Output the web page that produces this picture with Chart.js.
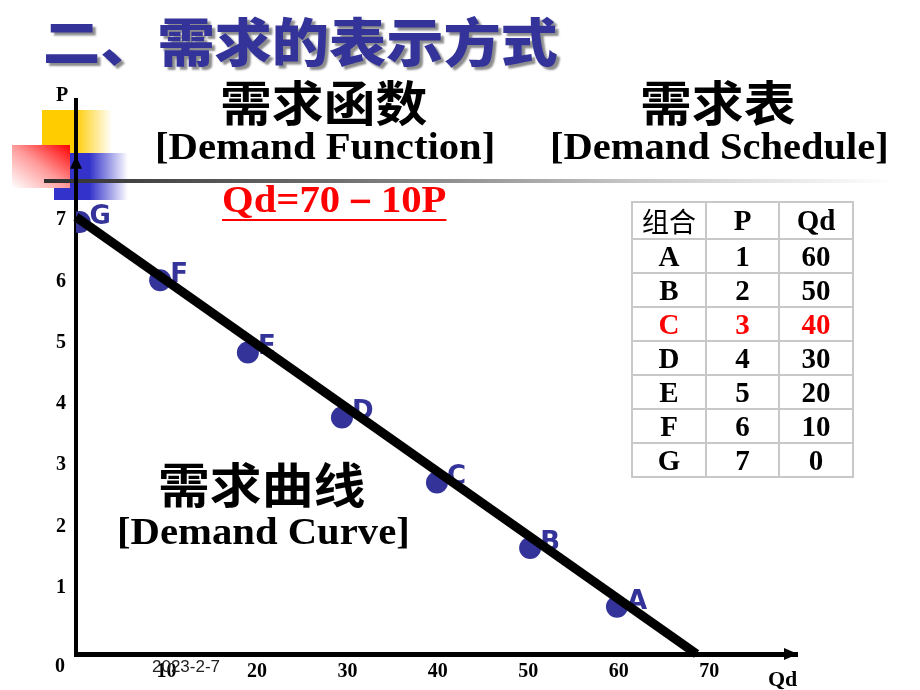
<!DOCTYPE html>
<html><head><meta charset="utf-8">
<script src="https://cdn.jsdelivr.net/npm/chart.js@4.4.0/dist/chart.umd.min.js"></script>
<style>
html,body{margin:0;padding:0;background:#fff;}
#wrap{position:relative;width:920px;height:690px;overflow:hidden;background:#fff;}
.t{position:absolute;white-space:nowrap;line-height:1;transform-origin:0 0;}
.cjk{font-family:"Noto Sans CJK SC",sans-serif;font-weight:700;font-size:48px;color:#000;transform:scaleX(1.08);}
.en{font-family:"Liberation Serif","Times New Roman",serif;font-weight:700;font-size:37px;color:#000;transform:scaleX(1.1);}
.ax{font-family:"Liberation Serif","Times New Roman",serif;font-weight:700;font-size:20px;color:#000;}
.deco{position:absolute;}
#tbl{position:absolute;left:631px;top:201px;border-collapse:collapse;table-layout:fixed;}
#tbl td{border:2px solid #c8c8c8;text-align:center;padding:0;font-family:"Liberation Serif","Times New Roman",serif;font-weight:700;font-size:29px;line-height:1;overflow:hidden;}
</style></head><body>
<div id="wrap">
  <div class="deco" style="left:42px;top:110px;width:70px;height:43px;background:linear-gradient(to right,#FFCC00 0%,#FFCC00 47%,rgba(255,204,0,0) 100%);"></div>
  <div class="deco" style="left:54px;top:153px;width:74px;height:47px;background:linear-gradient(to right,#3333CC 0%,#3333CC 48%,rgba(51,51,204,0) 100%);"></div>
  <div class="deco" style="left:12px;top:145px;width:58px;height:43px;background:linear-gradient(to bottom left,#FF0000 0%,#ff9a9a 50%,#ffffff 100%);"></div>
  <div class="deco" style="left:44px;top:179px;width:850px;height:4px;background:linear-gradient(to right,#303030 0%,#707070 35%,#c8c8c8 70%,rgba(255,255,255,0) 100%);"></div>

  <canvas id="c" width="920" height="690" style="position:absolute;left:0;top:0;"></canvas>

  <div class="t" style="left:43px;top:14px;font-family:'Noto Sans CJK SC',sans-serif;font-weight:900;font-size:52px;color:#333399;transform:scaleX(1.1);text-shadow:3px 3px 2px rgba(0,0,0,0.45);">二、需求的表示方式</div>

  <div class="t cjk" style="left:220px;top:76px;">需求函数</div>
  <div class="t cjk" style="left:640px;top:76px;">需求表</div>
  <div class="t en" style="left:155px;top:128px;">[Demand Function]</div>
  <div class="t en" style="left:550px;top:128px;transform:scaleX(1.095);">[Demand Schedule]</div>
  <div class="t en" style="left:222px;top:181px;color:#FF0000;text-decoration:underline;text-decoration-thickness:2px;text-underline-offset:7px;">Qd=70－10P</div>
  <div class="t cjk" style="left:158px;top:458px;">需求曲线</div>
  <div class="t en" style="left:117px;top:513px;">[Demand Curve]</div>

  <div class="t ax" style="left:56px;top:84px;">P</div>
  <div class="t ax" style="left:55px;top:655px;">0</div>
  <div class="t ax" style="left:768px;top:668px;font-size:22px;">Qd</div>
  <div class="t" style="left:152px;top:658px;font-family:'Liberation Sans',Arial,sans-serif;font-size:17px;color:#222;">2023-2-7</div>

  <table id="tbl"></table>
</div>
<script>
// ---- Demand schedule (table) ----
const combos = ['A','B','C','D','E','F','G'];
const schedP = [1,2,3,4,5,6,7];
const schedQd = [60,50,40,30,20,10,0];
const highlightRow = 'C';

// ---- Plotted points ----
const dotQd = [59.8,50.2,39.9,29.4,19.0,9.3,0.4];
const dotP  = [0.69,1.65,2.72,3.78,4.84,6.02,6.97];

// ---- Demand curve end points ----
const curveQd = [0, 68.6];
const curveP  = [7.05, -0.08];

// ---- Axis ticks ----
const xTicks = [10,20,30,40,50,60,70];
const yTicks = [1,2,3,4,5,6,7];

// build table
const tbl = document.getElementById('tbl');
const hdr = ['组合','P','Qd'];
const colW = [74,73,74];
let html = '<colgroup>' + colW.map(w=>'<col style="width:'+w+'px">').join('') + '</colgroup>';
html += '<tr style="height:37px">' + hdr.map((h,i)=>'<td style="'+(i===0?'font-family:\'Noto Sans CJK SC\',sans-serif;font-weight:400;font-size:27px;':'')+'">'+h+'</td>').join('') + '</tr>';
combos.forEach((c,i)=>{
  const col = c===highlightRow ? 'color:#FF0000;' : '';
  html += '<tr style="height:34px"><td style="'+col+'">'+c+'</td><td style="'+col+'">'+schedP[i]+'</td><td style="'+col+'">'+schedQd[i]+'</td></tr>';
});
tbl.innerHTML = html;
tbl.style.width = (colW.reduce((a,b)=>a+b,0)) + 'px';

const dots = dotQd.map((q,i)=>({x:q,y:dotP[i]}));
const curve = curveQd.map((q,i)=>({x:q,y:curveP[i]}));

const tickFont = {family:"'Liberation Serif','Times New Roman',serif", weight:'bold', size:20};

const decoPlugin = {
  id:'deco',
  afterDatasetDraw(chart,args){
    if(args.index!==1) return;
    const ctx = chart.ctx;
    const meta = chart.getDatasetMeta(1);
    ctx.save();
    ctx.fillStyle = '#333399';
    ctx.font = "bold 26px 'DejaVu Sans', sans-serif";
    ctx.textBaseline = 'middle';
    ctx.textAlign = 'left';
    meta.data.forEach((pt,i)=>{
      ctx.fillText(combos[i], pt.x+10, pt.y-5);
    });
    ctx.restore();
  },
  afterDraw(chart){
    const ctx = chart.ctx;
    const a = chart.chartArea;
    const ys = chart.scales.y;
    ctx.save();
    ctx.fillStyle = '#000';
    // y arrow
    const tipY = ys.getPixelForValue(8.05);
    ctx.beginPath();
    ctx.moveTo(a.left, tipY);
    ctx.lineTo(a.left-6, tipY+13);
    ctx.lineTo(a.left+6, tipY+13);
    ctx.closePath(); ctx.fill();
    // x arrow
    ctx.beginPath();
    ctx.moveTo(a.right+1, a.bottom);
    ctx.lineTo(a.right-13, a.bottom-6);
    ctx.lineTo(a.right-13, a.bottom+6);
    ctx.closePath(); ctx.fill();
    ctx.restore();
  }
};

new Chart(document.getElementById('c'), {
  type:'scatter',
  data:{datasets:[
    {type:'line', data:curve, borderColor:'#000', borderWidth:9, pointRadius:0, order:1, borderCapStyle:'butt', clip:false, fill:false},
    {data:dots, backgroundColor:'#333399', borderWidth:0, pointRadius:11, pointHoverRadius:11, order:2}
  ]},
  options:{
    responsive:false, animation:false, devicePixelRatio:1,
    layout:{padding:{top:100,right:123,bottom:0,left:0}},
    plugins:{legend:{display:false}, tooltip:{enabled:false}},
    scales:{
      x:{type:'linear', min:0, max:79.7,
        grid:{display:false, drawTicks:false},
        border:{display:true, color:'#000', width:5},
        ticks:{color:'#000', font:tickFont, padding:6, maxRotation:0, autoSkip:false},
        afterBuildTicks(s){ s.ticks = xTicks.map(v=>({value:v})); },
        afterFit(s){ s.height = 36; }
      },
      y:{type:'linear', min:-0.08, max:8.96,
        grid:{display:false, drawTicks:false},
        border:{display:true, color:'#000', width:4},
        ticks:{color:'#000', font:tickFont, padding:10, autoSkip:false},
        afterBuildTicks(s){ s.ticks = yTicks.map(v=>({value:v})); },
        afterFit(s){ s.width = 76; }
      }
    }
  },
  plugins:[decoPlugin]
});
</script>
</body></html>
